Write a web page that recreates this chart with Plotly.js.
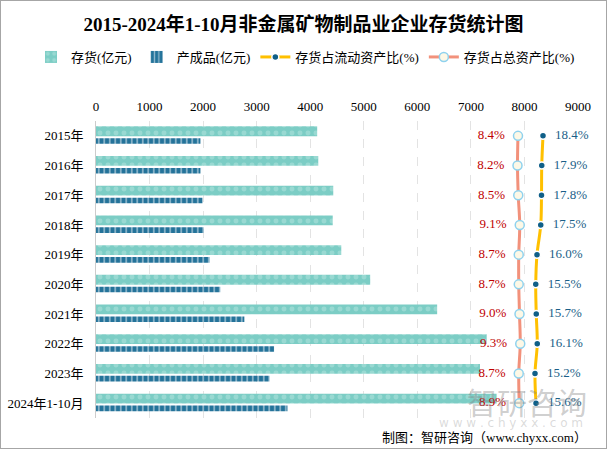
<!DOCTYPE html>
<html>
<head>
<meta charset="utf-8">
<script src="https://cdn.plot.ly/plotly-3.0.1.min.js"></script>
<style>
html,body{margin:0;padding:0;background:#fff;}
#chart{width:605px;height:447px;border:1px solid #a6a6a6;}
</style>
</head>
<body>
<div id="chart"></div>
<script>
// ---- data ----
const categories = ["2015年","2016年","2017年","2018年","2019年","2020年","2021年","2022年","2023年","2024年1-10月"];
const inventory = [4130, 4150, 4430, 4420, 4580, 5120, 6370, 7295, 7170, 7480];      // 存货(亿元)
const finishedGoods = [1950, 1950, 1990, 2010, 2120, 2320, 2770, 3325, 3240, 3575]; // 产成品(亿元)
const ratioCurrent = [18.4, 17.9, 17.8, 17.5, 16.0, 15.5, 15.7, 16.1, 15.2, 15.6];  // 存货占流动资产比(%)
const ratioTotal = [8.4, 8.2, 8.5, 9.1, 8.7, 8.7, 9.0, 9.3, 8.7, 8.9];              // 存货占总资产比(%)
const xTicks = [0,1000,2000,3000,4000,5000,6000,7000,8000,9000];

const FONT = "Liberation Serif, 'Noto Sans CJK SC', serif";

const traces = [
  {
    type: 'bar', orientation: 'h', name: '存货(亿元)',
    x: inventory, y: categories,
    offset: -0.32, width: 0.33,
    marker: {color: '#7ccdc5', line: {width: 0},
      pattern: {shape: '.', fillmode: 'overlay', fgcolor: '#b5e5e0', size: 8, solidity: 0.3}},
    hoverinfo: 'skip'
  },
  {
    type: 'bar', orientation: 'h', name: '产成品(亿元)',
    x: finishedGoods, y: categories,
    offset: 0.08, width: 0.19,
    marker: {color: '#24739a', line: {width: 0},
      pattern: {shape: '|', fillmode: 'overlay', fgcolor: '#ffffff', size: 5.5, solidity: 0.3}},
    hoverinfo: 'skip'
  },
  {
    type: 'scatter', mode: 'lines+markers+text', name: '存货占流动资产比(%)',
    x: ratioCurrent, y: categories, xaxis: 'x2', cliponaxis: false,
    line: {color: '#ffc000', width: 3, shape: 'spline'},
    marker: {color: '#0f5f88', size: 7, line: {color: '#ffffff', width: 1.5}},
    texttemplate: '\u00a0\u00a0%{x:.1f}%', textposition: 'middle right',
    textfont: {family: FONT, size: 13, color: '#1b5f88'},
    hoverinfo: 'skip'
  },
  {
    type: 'scatter', mode: 'lines+markers+text', name: '存货占总资产比(%)',
    x: ratioTotal, y: categories, xaxis: 'x2', cliponaxis: false,
    line: {color: '#f2917b', width: 3, shape: 'spline'},
    marker: {color: '#fdf8e6', size: 9, line: {color: '#8fd2ee', width: 1.5}},
    texttemplate: '%{x:.1f}%\u00a0\u00a0', textposition: 'middle left',
    textfont: {family: FONT, size: 13, color: '#c00000'},
    hoverinfo: 'skip'
  }
];

const layout = {
  width: 605, height: 447,
  margin: {l: 95, r: 28, t: 120, b: 30},
  paper_bgcolor: '#ffffff', plot_bgcolor: '#ffffff',
  font: {family: FONT, size: 13, color: '#000000'},
  title: {text: '<b>2015-2024年1-10月非金属矿物制品业企业存货统计图</b>',
    font: {family: FONT, size: 19, color: '#000000'},
    x: 0.5, xanchor: 'center', y: 1 - 23/447, yanchor: 'middle', xref: 'container', yref: 'container'},
  barmode: 'overlay',
  showlegend: true,
  legend: {orientation: 'h', xref: 'paper', x: (31-96)/482, xanchor: 'left',
    yref: 'paper', y: 1 + (121-57)/297, yanchor: 'middle',
    font: {family: FONT, size: 13, color: '#000000'}, traceorder: 'normal',
    itemwidth: 30, tracegroupgap: 0},
  xaxis: {side: 'top', range: [0, 9000], tickvals: xTicks, ticktext: xTicks.map(String),
    showgrid: true, gridcolor: '#e3e3e3', griddash: 'dash', gridwidth: 1,
    zeroline: false, showline: false, ticks: '', ticklabelstandoff: 6,
    tickfont: {family: FONT, size: 13, color: '#000000'}, fixedrange: true},
  xaxis2: {overlaying: 'x', side: 'bottom', range: [-160.4, 32.4], visible: false, fixedrange: true},
  yaxis: {type: 'category', range: [9.5, -0.5], showgrid: false, zeroline: false,
    showline: true, linecolor: '#cccccc', linewidth: 1, ticks: '', ticklabelstandoff: 9,
    tickfont: {family: FONT, size: 13, color: '#000000'}, fixedrange: true},
  annotations: [
    {text: '智研咨询', xref: 'paper', yref: 'paper', x: (527-96)/482, y: 1 - (401-121)/297,
      showarrow: false, font: {family: "'Noto Sans CJK SC', sans-serif", size: 30, color: 'rgba(130,130,130,0.4)'},
      xanchor: 'center', yanchor: 'middle'},
    {text: 'w w w . c h y x x . c o m', xref: 'paper', yref: 'paper', x: (511-96)/482, y: 1 - (423-121)/297,
      showarrow: false, font: {family: "DejaVu Sans, sans-serif", size: 12, color: 'rgba(150,150,150,0.35)'},
      xanchor: 'center', yanchor: 'middle'},
    {text: '制图：智研咨询（www.chyxx.com）', xref: 'paper', yref: 'paper', x: (589-96)/482, y: 1 - (437-121)/297,
      showarrow: false, font: {family: FONT, size: 13, color: '#000000'},
      xanchor: 'right', yanchor: 'middle'}
  ]
};

Plotly.newPlot('chart', traces, layout, {displayModeBar: false, staticPlot: true});
</script>
</body>
</html>
